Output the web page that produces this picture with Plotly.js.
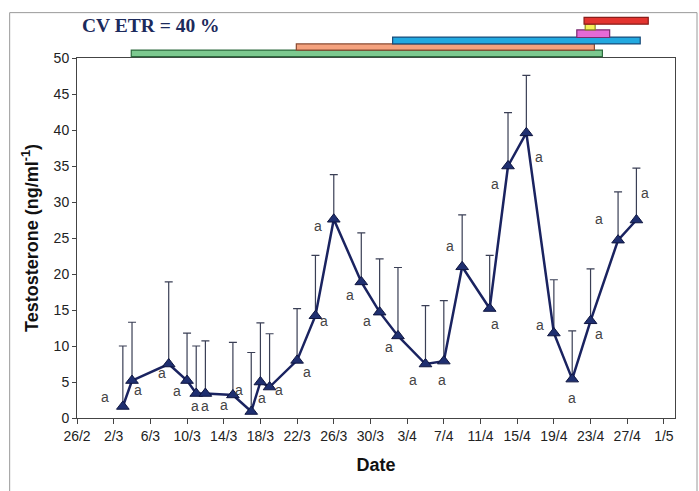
<!DOCTYPE html>
<html>
<head>
<meta charset="utf-8">
<script src="https://cdn.plot.ly/plotly-3.0.1.min.js"></script>
<style>html,body{margin:0;padding:0;background:#fff;}#chart{width:699px;height:491px;}</style>
</head>
<body>
<div id="chart"></div>
<script>
// ---- data ----
var dates = ['2003-03-03','2003-03-04','2003-03-08','2003-03-10','2003-03-11','2003-03-12','2003-03-15','2003-03-17','2003-03-18','2003-03-19',
             '2003-03-22','2003-03-24','2003-03-26','2003-03-29','2003-03-31','2003-04-02','2003-04-05','2003-04-07','2003-04-09','2003-04-12',
             '2003-04-14','2003-04-16','2003-04-19','2003-04-21','2003-04-23','2003-04-26','2003-04-28'];
var testosterone = [1.6, 5.2, 7.5, 5.2, 3.4, 3.4, 3.2, 0.9, 5.0, 4.3,
                    8.0, 14.2, 27.6, 18.9, 14.7, 11.4, 7.5, 7.9, 21.0, 15.2,
                    35.0, 39.6, 11.8, 5.4, 13.5, 24.7, 27.5];
var upperError = [8.4, 8.1, 11.4, 6.6, 6.6, 7.3, 7.3, 8.2, 8.2, 7.4,
                  7.2, 8.4, 6.2, 6.8, 7.4, 9.5, 8.1, 8.4, 7.2, 7.4,
                  7.4, 8.0, 7.4, 6.7, 7.2, 6.7, 7.2];
var groupLetters = ['a','a','a','a','a','a','a','a','a','a','a','a','a','a','a','a','a','a','a','a','a','a','a','a','a','a','a'];
var tickLabelStart = '2003-02-26';
var cvText = 'CV ETR = 40 %';
var periodStart = ['2003-03-03 22:00','2003-03-21 22:00','2003-04-01 10:00','2003-04-21 12:00','2003-04-22 10:00','2003-04-22 07:00'];
var periodEnd   = ['2003-04-24 07:00','2003-04-23 10:00','2003-04-28 10:00','2003-04-25 02:00','2003-04-23 12:00','2003-04-29 07:00'];

// ---- styles (not data) ----
var labelOffsets = [[-18,-9],[6,9],[-7,9],[-10,10],[-1,12],[0,12],[-9,10],[-12,-22],[2,16],[9,3],
                    [10,12],[9,5],[-16,7],[-11,13],[-13,9],[-9,11],[-12,16],[-2,19],[-12,-21],[5,15],
                    [-13,18],[13,24],[-14,-8],[0,19],[8,13],[-19,-21],[9,-27]];
var periodFill = ['#7cc98f','#f4a27e','#22a9e0','#e46ad6','#f5f25a','#e3342f'];
var periodLine = ['#2e6b3f','#8a4a30','#1a4c7a','#7a2a70','#8a8a20','#8a1d1a'];
var periodY = [[1.004,1.022],[1.022,1.039],[1.039,1.058],[1.057,1.078],[1.078,1.094],[1.094,1.113]];

var trace = {
  x: dates, y: testosterone, type: 'scatter', mode: 'lines+markers',
  line: {color: '#1a2360', width: 2.5},
  marker: {symbol: 'triangle-up', size: 11, color: '#1f2f70', line: {color: '#0f1640', width: 1}},
  error_y: {type: 'data', symmetric: false, array: upperError, arrayminus: upperError.map(function(){return 0;}),
            color: '#3a3f55', thickness: 1.2, width: 4},
  hoverinfo: 'x+y', showlegend: false
};

var shapes = [];
for (var i = 0; i < periodStart.length; i++) {
  shapes.push({type: 'rect', xref: 'x', yref: 'paper', x0: periodStart[i], x1: periodEnd[i],
               y0: periodY[i][0], y1: periodY[i][1], fillcolor: periodFill[i],
               line: {color: periodLine[i], width: 1.2}, layer: 'above'});
}
// outer frame
shapes.push({type: 'rect', xref: 'paper', yref: 'paper', x0: -0.1126, x1: 1.0368, y0: -0.25, y1: 1.126,
             line: {color: '#9a9a9a', width: 1}, fillcolor: 'rgba(0,0,0,0)', layer: 'below'});

var annotations = [];
for (var j = 0; j < dates.length; j++) {
  annotations.push({x: dates[j], y: testosterone[j], xref: 'x', yref: 'y', text: groupLetters[j],
                    showarrow: false, xshift: labelOffsets[j][0], yshift: -labelOffsets[j][1],
                    font: {family: 'Liberation Sans, Arial, sans-serif', size: 14, color: '#444'}});
}
annotations.push({xref: 'paper', yref: 'paper', x: 0.123, y: 1.089, xanchor: 'center', yanchor: 'middle',
                  text: cvText, showarrow: false,
                  font: {family: 'Liberation Serif, Times New Roman, serif', size: 19.5, color: '#1c2a5c', weight: 'bold'}});

var layout = {
  width: 699, height: 491,
  margin: {l: 77, r: 24, t: 58, b: 73},
  paper_bgcolor: '#fff', plot_bgcolor: '#fff',
  font: {family: 'Liberation Sans, Arial, sans-serif', size: 14, color: '#222'},
  xaxis: {
    type: 'date', range: ['2003-02-26', '2003-05-02 05:00'],
    tick0: tickLabelStart, dtick: 4 * 86400000, tickformat: '%-d/%-m',
    ticks: 'outside', ticklen: 5, tickcolor: '#444', showgrid: false, zeroline: false,
    showline: true, linecolor: '#444', linewidth: 1, mirror: true,
    tickfont: {size: 14, color: '#222'},
    title: {text: 'Date', font: {size: 18, weight: 'bold', color: '#111'}, standoff: 15}
  },
  yaxis: {
    range: [0, 50], dtick: 5, ticks: 'outside', ticklen: 4, tickcolor: '#444',
    showgrid: false, zeroline: false, showline: true, linecolor: '#444', linewidth: 1, mirror: true,
    tickfont: {size: 14, color: '#222'},
    title: {text: 'Testosterone (ng/ml<sup>-1</sup>)', font: {size: 18, weight: 'bold', color: '#111'}, standoff: 10}
  },
  shapes: shapes,
  annotations: annotations
};

Plotly.newPlot('chart', [trace], layout, {displayModeBar: false, staticPlot: true});
</script>
</body>
</html>
